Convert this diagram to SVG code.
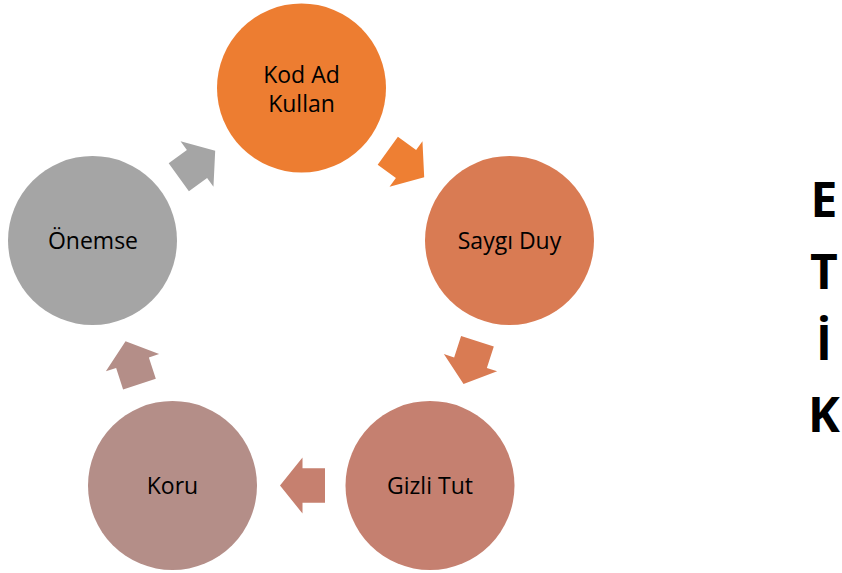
<svg xmlns="http://www.w3.org/2000/svg" width="842" height="573" viewBox="0 0 842 573">
  <style>
    .lbl { font-family: "Open Sans", "Noto Sans", "Liberation Sans", sans-serif; font-size: 23px; fill: #000000; text-anchor: middle; }
    .etik { font-family: "Open Sans", "Noto Sans", "Liberation Sans", sans-serif; font-size: 48px; font-weight: bold; fill: #000000; text-anchor: middle; }
  </style>
  <defs>
    <polygon id="arrow" points="-22.5,-17.2 0,-17.2 0,-28 22.5,0 0,28 0,17.2 -22.5,17.2"/>
  </defs>
  <rect width="842" height="573" fill="#FFFFFF"/>

  <g id="connectors">
    <use href="#arrow" fill="#EE7F33" transform="translate(406,164) rotate(36)"/>
    <use href="#arrow" fill="#D97B53" transform="translate(470.5,362.7) rotate(108)"/>
    <use href="#arrow" fill="#C6806F" transform="translate(302.5,485.5) rotate(180)"/>
    <use href="#arrow" fill="#B48E88" transform="translate(132.5,362.7) rotate(252)"/>
    <use href="#arrow" fill="#A5A5A5" transform="translate(197,164) rotate(324)"/>
  </g>

  <g id="node-kod-ad-kullan">
    <circle cx="301.5" cy="88" r="84.5" fill="#ED7D31"/>
    <text class="lbl" x="301.5" y="82.5">Kod Ad</text>
    <text class="lbl" x="301.5" y="111.5">Kullan</text>
  </g>
  <g id="node-saygi-duy">
    <circle cx="509.5" cy="240.5" r="84.5" fill="#D97B53"/>
    <text class="lbl" x="509.5" y="249">Saygı Duy</text>
  </g>
  <g id="node-gizli-tut">
    <circle cx="430" cy="485.5" r="84.5" fill="#C58070"/>
    <text class="lbl" x="430" y="494">Gizli Tut</text>
  </g>
  <g id="node-koru">
    <circle cx="172.5" cy="485.5" r="84.5" fill="#B48E88"/>
    <text class="lbl" x="172.5" y="494">Koru</text>
  </g>
  <g id="node-onemse">
    <circle cx="92.5" cy="240.5" r="84.5" fill="#A5A5A5"/>
    <text class="lbl" x="93" y="249">Önemse</text>
  </g>

  <g id="etik">
    <text class="etik" x="824" y="217">E</text>
    <text class="etik" x="824" y="289">T</text>
    <text class="etik" x="824" y="360">İ</text>
    <text class="etik" x="824" y="432">K</text>
  </g>
</svg>
